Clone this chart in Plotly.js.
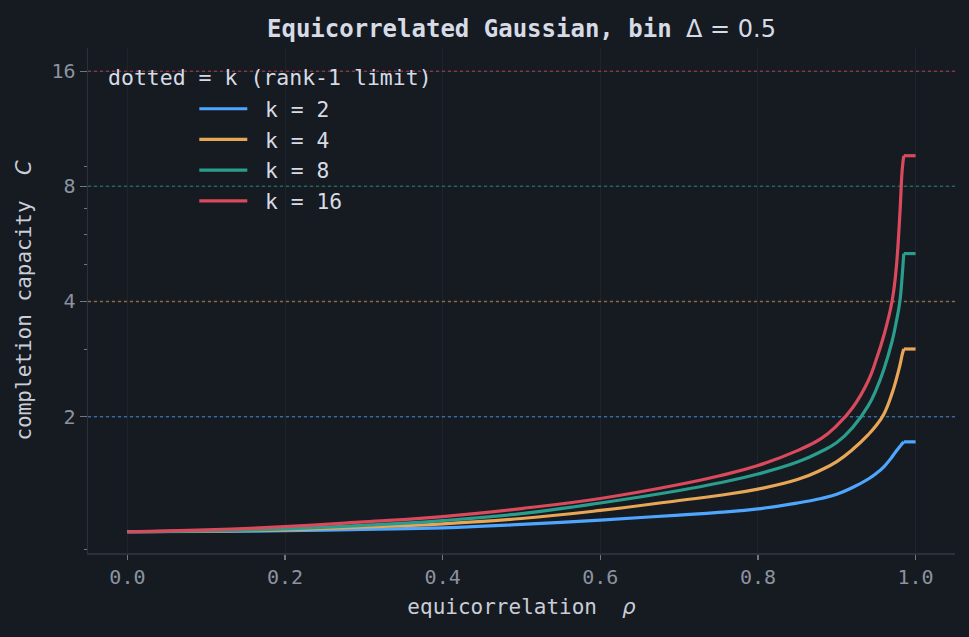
<!DOCTYPE html>
<html>
<head>
<meta charset="utf-8">
<script src="https://cdn.plot.ly/plotly-3.0.1.min.js"></script>
<style>
  html, body { margin: 0; padding: 0; background: #161a21; }
  #chart { width: 969px; height: 637px; }
</style>
</head>
<body>
<div id="chart"></div>
<script>
// -----------------------
// Data
// -----------------------
const rho = [0, 0.1, 0.2, 0.3, 0.4, 0.5, 0.6, 0.7, 0.75, 0.8, 0.85, 0.88, 0.9,
             0.92, 0.94, 0.95, 0.96, 0.97, 0.975, 0.98, 0.983, 0.985, 1.0];

const capK2  = [1.000, 1.002, 1.006, 1.015, 1.024, 1.045, 1.073, 1.106, 1.124, 1.148, 1.189, 1.222, 1.253,
                1.305, 1.374, 1.420, 1.481, 1.568, 1.621, 1.670, 1.700, 1.718, 1.718];
const capK4  = [1.000, 1.004, 1.012, 1.029, 1.049, 1.083, 1.137, 1.207, 1.244, 1.293, 1.369, 1.450, 1.526,
                1.640, 1.795, 1.895, 2.036, 2.297, 2.483, 2.718, 2.903, 3.005, 3.005];
const capK8  = [1.000, 1.005, 1.017, 1.039, 1.070, 1.116, 1.189, 1.282, 1.341, 1.416, 1.521, 1.621, 1.711,
                1.872, 2.137, 2.353, 2.669, 3.139, 3.499, 3.993, 4.668, 5.338, 5.338];
const capK16 = [1.000, 1.011, 1.031, 1.061, 1.096, 1.150, 1.222, 1.329, 1.399, 1.490, 1.630, 1.752, 1.895,
                2.110, 2.483, 2.817, 3.274, 3.993, 4.782, 6.736, 8.829, 9.620, 9.620];

const kValues = [2, 4, 8, 16];
const seriesNames = ["k = 2", "k = 4", "k = 8", "k = 16"];
const yTickVals = [2, 4, 8, 16];
const yTickText = ["2", "4", "8", "16"];
const yMinorVals = [0.9, 3, 5, 6, 7, 9];
const xTickVals = [0, 0.2, 0.4, 0.6, 0.8, 1.0];
const xTickText = ["0.0", "0.2", "0.4", "0.6", "0.8", "1.0"];

// -----------------------
// Style
// -----------------------
const BG = "#161a21";
const COLORS = ["#4ea6ff", "#e8a657", "#2a9d8c", "#d94a5c"];
const MONO = "DejaVu Sans Mono";
const X_RANGE = [-0.05, 1.05];
const LW = 3.2;

const curves = [capK2, capK4, capK8, capK16];
// last point is the flat saturated tail; the rise is smoothed, the tail is straight
const nRise = rho.length - 1;

// dotted reference lines at C = k
const refTraces = kValues.map((k, i) => ({
  x: X_RANGE,
  y: [k, k],
  type: "scatter",
  mode: "lines",
  line: { color: COLORS[i], width: 1.5, dash: "dot" },
  opacity: 0.55,
  showlegend: false,
  hoverinfo: "skip"
}));

const riseTraces = curves.map((c, i) => ({
  x: rho.slice(0, nRise),
  y: c.slice(0, nRise),
  type: "scatter",
  mode: "lines",
  name: "\u00a0" + seriesNames[i],
  legendgroup: seriesNames[i],
  line: { color: COLORS[i], width: LW, shape: "spline", smoothing: 1.3 }
}));

const tailTraces = curves.map((c, i) => ({
  x: rho.slice(nRise - 1),
  y: c.slice(nRise - 1),
  type: "scatter",
  mode: "lines",
  legendgroup: seriesNames[i],
  showlegend: false,
  line: { color: COLORS[i], width: LW }
}));

const layout = {
  width: 969,
  height: 637,
  paper_bgcolor: BG,
  plot_bgcolor: BG,
  font: { family: MONO, color: "#d6dbe6", size: 20 },
  margin: { l: 88, r: 14, t: 48, b: 84 },
  showlegend: true,
  title: {
    text: '<b>Equicorrelated Gaussian, bin</b> <span style="font-family:DejaVu Sans;font-weight:normal">Δ = 0.5</span>',
    font: { family: MONO, size: 24, color: "#d6dbe6" },
    xref: "paper", x: 0.5, xanchor: "center",
    y: 0.955, yanchor: "middle"
  },
  xaxis: {
    range: X_RANGE,
    tickmode: "array",
    tickvals: xTickVals,
    ticktext: xTickText,
    ticks: "outside", ticklen: 5, tickwidth: 1.2, tickcolor: "#6f7784",
    tickfont: { family: MONO, size: 20, color: "#8b93a0" },
    showgrid: true, gridcolor: "#1f242c", gridwidth: 1,
    zeroline: false,
    showline: true, linecolor: "#2b313b", linewidth: 1.5,
    title: {
      text: 'equicorrelation\u00a0\u00a0<span style="font-family:DejaVu Sans"><i>ρ</i></span>',
      font: { family: MONO, size: 21, color: "#c9ced8" },
      standoff: 12
    }
  },
  yaxis: {
    type: "log",
    range: [Math.log10(0.88), Math.log10(18.4)],
    tickmode: "array",
    tickvals: yTickVals,
    ticktext: yTickText,
    ticks: "outside", ticklen: 7, tickwidth: 1.2, tickcolor: "#6f7784",
    tickfont: { family: MONO, size: 20, color: "#8b93a0" },
    minor: {
      tickmode: "array",
      tickvals: yMinorVals,
      ticks: "outside", ticklen: 3, tickwidth: 1, tickcolor: "#6f7784",
      showgrid: false
    },
    showgrid: true, gridcolor: "#1f242c", gridwidth: 1,
    zeroline: false,
    showline: true, linecolor: "#2b313b", linewidth: 1.5,
    title: {
      text: 'completion capacity\u00a0\u00a0<span style="font-family:DejaVu Sans"><i>C</i></span>',
      font: { family: MONO, size: 21, color: "#c9ced8" },
      standoff: 14
    }
  },
  legend: {
    x: 0.1226, xanchor: "left",
    y: 0.92, yanchor: "top",
    bgcolor: "rgba(0,0,0,0)",
    borderwidth: 0,
    font: { family: MONO, size: 21.3, color: "#d6dbe6" },
    itemwidth: 48,
    tracegroupgap: 0
  },
  annotations: [{
    xref: "paper", yref: "paper",
    x: 0.0207, y: 0.9406,
    xanchor: "left", yanchor: "middle",
    text: "dotted = k (rank-1 limit)",
    showarrow: false,
    font: { family: MONO, size: 21.5, color: "#d6dbe6" }
  }]
};

Plotly.newPlot("chart", [...refTraces, ...riseTraces, ...tailTraces], layout,
  { displayModeBar: false, staticPlot: true });
</script>
</body>
</html>
